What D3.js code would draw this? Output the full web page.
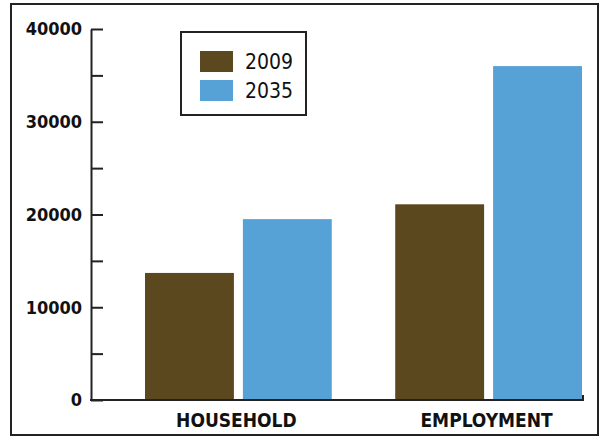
<!DOCTYPE html>
<html><head><meta charset="utf-8">
<script src="https://cdn.jsdelivr.net/npm/d3@7"></script>
<style>
html,body{margin:0;padding:0;background:#fff;}
svg{display:block;}
</style></head>
<body>
<svg id="c" width="601" height="438"></svg>
<script>
const categories = ["HOUSEHOLD", "EMPLOYMENT"];
const seriesNames = ["2009", "2035"];
const values2009 = [13700, 21100];
const values2035 = [19500, 36000];
const yTicks = [0, 10000, 20000, 30000, 40000];
const yMinorTicks = [5000, 15000, 25000, 35000];
const colors = ["#5b481e", "#56a1d6"];

const svg = d3.select("#c");
const cond = '"DejaVu Sans Condensed","DejaVu Sans",sans-serif';

// outer frame
svg.append("rect").attr("x", 11).attr("y", 4).attr("width", 587).attr("height", 431)
  .attr("fill", "#fff").attr("stroke", "#222").attr("stroke-width", 2);

const y = d3.scaleLinear().domain([0, 40000]).range([400, 29]);
const x0 = d3.scaleBand().domain(categories).range([145, 582]).paddingInner(0.2535).paddingOuter(0);
const x1 = d3.scaleBand().domain(seriesNames).range([0, x0.bandwidth()]).paddingInner(0.0918).paddingOuter(0);

const series = [values2009, values2035];
const data = categories.map((c, i) => ({cat: c, vals: seriesNames.map((s, j) => ({s, v: series[j][i], j}))}));

const g = svg.append("g");
g.selectAll("g.grp").data(data).join("g").attr("class", "grp")
  .attr("transform", d => `translate(${x0(d.cat)},0)`)
  .selectAll("rect").data(d => d.vals).join("rect")
  .attr("x", d => x1(d.s)).attr("width", x1.bandwidth())
  .attr("y", d => y(d.v)).attr("height", d => y(0) - y(d.v))
  .attr("fill", d => colors[d.j]);

// y axis
const yAxis = d3.axisRight(y).tickValues(yTicks.concat(yMinorTicks)).tickSize(12).tickSizeOuter(0).tickFormat("");
const ya = svg.append("g").attr("transform", "translate(91,0)").call(yAxis);
ya.selectAll("path,line").attr("stroke", "#222").attr("stroke-width", 2);

// y labels
svg.selectAll("text.ylbl").data(yTicks).join("text").attr("class", "ylbl")
  .attr("x", 82).attr("y", d => y(d)).attr("dy", "0.36em")
  .attr("text-anchor", "end")
  .style("font-family", cond).style("font-weight", "bold").style("font-size", "18px")
  .attr("fill", "#111")
  .text(d => d3.format("d")(d));

// x axis baseline
svg.append("path").attr("d", `M90,${y(0)}H583V${y(0) - 5}`)
  .attr("fill", "none").attr("stroke", "#222").attr("stroke-width", 2);

svg.selectAll("text.xlbl").data(categories).join("text").attr("class", "xlbl")
  .attr("x", d => x0(d) + x0.bandwidth() / 2 - 2).attr("y", 427)
  .attr("text-anchor", "middle")
  .style("font-family", cond).style("font-weight", "bold").style("font-size", "19px")
  .attr("fill", "#111")
  .text(d => d);

// legend
const lg = svg.append("g");
lg.append("rect").attr("x", 181).attr("y", 32).attr("width", 125).attr("height", 83)
  .attr("fill", "#fff").attr("stroke", "#222").attr("stroke-width", 2);
seriesNames.forEach((s, i) => {
  lg.append("rect").attr("x", 200).attr("y", 51 + i * 29).attr("width", 33).attr("height", 21)
    .attr("fill", colors[i]);
  lg.append("text").attr("x", 245).attr("y", 61.5 + i * 29).attr("dy", "0.36em")
    .style("font-family", cond).style("font-size", "21px")
    .attr("fill", "#111").text(s);
});
</script>
</body></html>
